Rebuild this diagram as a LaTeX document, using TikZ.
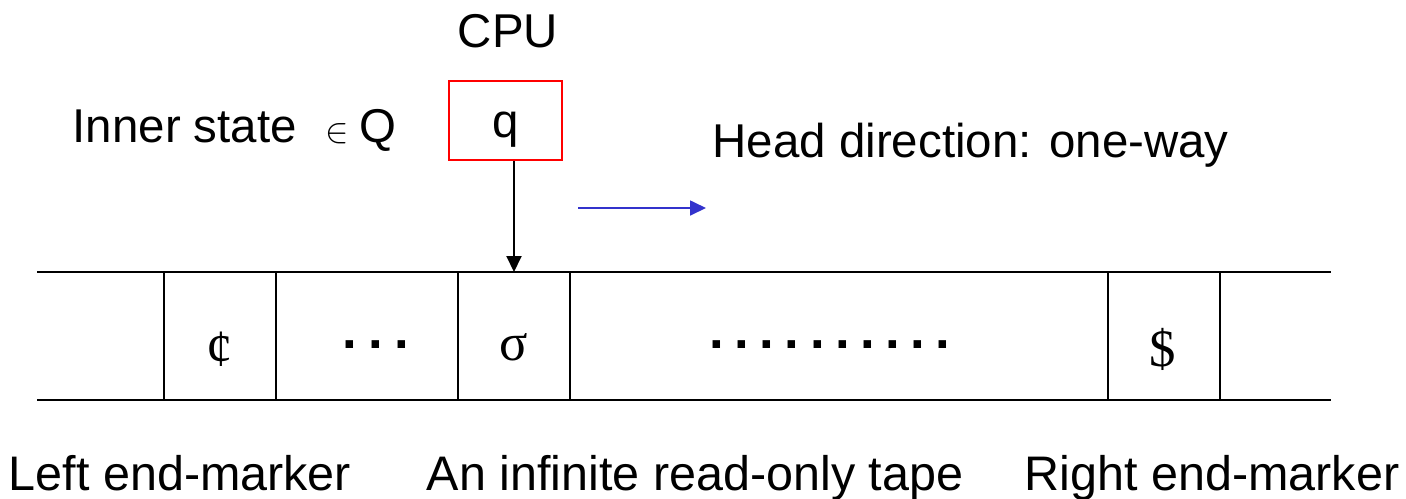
\documentclass[tikz,border=0pt]{standalone}
\usepackage{fontspec}
\setmainfont{Liberation Sans}
\newfontfamily\tapefont{Liberation Serif}
\usetikzlibrary{arrows.meta}
\definecolor{boxred}{HTML}{FF0000}
\definecolor{dirblue}{HTML}{3333CC}
\tikzset{
  lbl/.style={inner sep=0pt,font=\fontsize{13.5}{16}\selectfont},
  blbl/.style={lbl,font=\fontsize{13.8}{16}\selectfont},
  sym/.style={inner sep=0pt,font=\tapefont\fontsize{15}{18}\selectfont},
  tdots/.style={inner sep=0pt,font=\bfseries\fontsize{15}{18}\selectfont},
  tape/.style={draw=black,line width=.55pt},
  cpubox/.style={draw=boxred,line width=.6pt,minimum width=11.3mm,minimum height=7.9mm,
                 inner sep=0pt,text height=9.4pt,text depth=0pt,font=\fontsize{13.5}{16}\selectfont},
  rd/.style={-{Triangle[length=1.6mm,width=1.5mm]},draw=black,line width=.55pt},
  mv/.style={-{Triangle[length=1.6mm,width=1.5mm]},draw=dirblue,line width=.5pt}
}
\begin{document}
\begin{tikzpicture}[x=0.1mm,y=-0.1mm]
\useasboundingbox (0,0) rectangle (1406,498);
% control unit
\node[lbl,anchor=base] (cpu) at (508,47) {CPU};
\node[lbl,anchor=base west] (inner) at (72,142)
  {Inner state\hspace{8.1pt}{\fontsize{10}{10}\selectfont$\in$}\hspace{3pt}Q};
\node[cpubox] (q) at (505.5,120.5) {q};
\node[lbl,anchor=base west] (hdir) at (712,157) {Head direction: one-way};
\coordinate (mv0) at (578,208);
\coordinate (mv1) at (706,208);
\coordinate (rhead) at (514,272);

% tape
\draw[tape] (37,272) -- (1331,272);
\draw[tape] (37,400) -- (1331,400);
\foreach \x in {164,276,458,570,1108,1220}
  \draw[tape] (\x,272) -- (\x,400);
\node[sym] (cent) at (220,349) {¢};
\node[tdots] (dl) at (376,345) {\spaceskip=1.9pt . . .};
\node[sym,anchor=base] (sig) at (514,360) {σ};
\node[tdots] (dr) at (830,345) {\spaceskip=1.6pt . . . . . . . . . .};
\node[sym] (dol) at (1163,349) {\$};

\node[blbl,anchor=base] (lem) at (180,490) {Left end-marker};
\node[blbl,anchor=base] (itape) at (695,490) {An infinite read-only tape};
\node[blbl,anchor=base] (rem) at (1212,490) {Right end-marker};

\draw[rd] (q.south -| rhead) -- (rhead);
\draw[mv] (mv0) -- (mv1);
\end{tikzpicture}
\end{document}
